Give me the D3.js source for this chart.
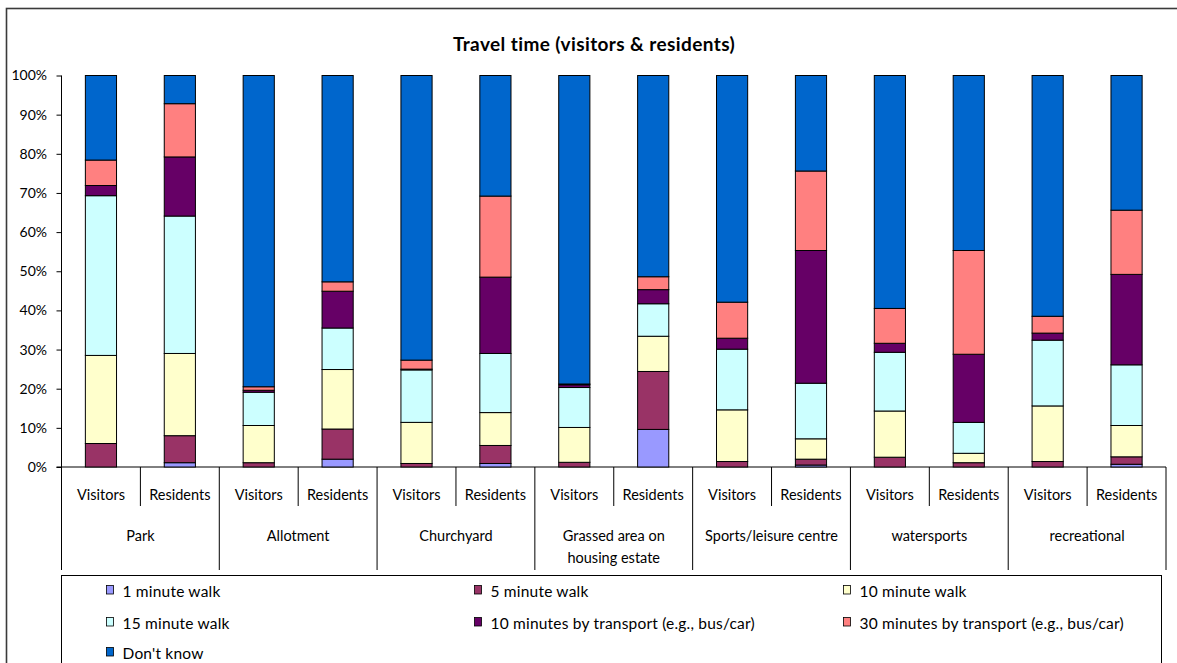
<!DOCTYPE html>
<html>
<head>
<meta charset="utf-8">
<script src="https://cdn.jsdelivr.net/npm/d3@7"></script>
<style>
  html, body { margin: 0; padding: 0; background: #fff; }
  svg { display: block; font-family: Lato, "Open Sans", sans-serif; }
</style>
</head>
<body>
<svg id="chart" width="1177" height="663"></svg>
<script>
// Locations surveyed and the two respondent groups per location
const places = ["Park", "Allotment", "Churchyard", "Grassed area on housing estate",
                "Sports/leisure centre", "watersports", "recreational"];
const placeLines = [["Park"], ["Allotment"], ["Churchyard"], ["Grassed area on", "housing estate"],
                    ["Sports/leisure centre"], ["watersports"], ["recreational"]];
const groups = ["Visitors", "Residents"];

// Share of respondents (%) per travel-time answer, one value per bar (place × group)
const oneMinuteWalk   = [0,    1.1, 0,    2.0,  0,    0.9,  0,    9.6,  0,    0.5,  0,    0,    0,    0.7];
const fiveMinuteWalk  = [6.0,  6.9, 1.1,  7.7,  0.9,  4.6,  1.2,  14.8, 1.4,  1.5,  2.5,  1.1,  1.4,  1.9];
const tenMinuteWalk   = [22.5, 21.0, 9.5, 15.2, 10.5, 8.4,  8.9,  9.0,  13.2, 5.2,  11.8, 2.4,  14.2, 8.0];
const fifteenMinWalk  = [40.8, 35.1, 8.5, 10.6, 13.4, 15.1, 10.2, 8.3,  15.5, 14.2, 15.0, 7.9,  16.8, 15.5];
const tenMinTransport = [2.6,  15.1, 0.5, 9.4,  0.2,  19.5, 0.7,  3.6,  2.8,  33.9, 2.3,  17.4, 1.8,  23.1];
const thirtyMinTransp = [6.5,  13.6, 0.9, 2.4,  2.3,  20.7, 0.2,  3.3,  9.2,  20.3, 8.9,  26.5, 4.3,  16.4];
const dontKnow        = [21.6, 7.2, 79.5, 52.7, 72.7, 30.8, 78.8, 51.4, 57.9, 24.4, 59.5, 44.7, 61.5, 34.4];

const seriesNames = ["1 minute walk", "5 minute walk", "10 minute walk", "15 minute walk",
                     "10 minutes by transport (e.g., bus/car)", "30 minutes by transport (e.g., bus/car)",
                     "Don't know"];
const seriesValues = [oneMinuteWalk, fiveMinuteWalk, tenMinuteWalk, fifteenMinWalk,
                      tenMinTransport, thirtyMinTransp, dontKnow];
const seriesColors = ["#9999FF", "#993366", "#FFFFCC", "#CCFFFF", "#660066", "#FF8080", "#0066CC"];

const yTicks = [0, 10, 20, 30, 40, 50, 60, 70, 80, 90, 100];

// ---- build bar records ----
const bars = [];
places.forEach((p, i) => groups.forEach((g, j) => {
  const k = i * groups.length + j;
  const rec = { key: k, place: p, group: g };
  seriesNames.forEach((s, si) => { rec[s] = seriesValues[si][k]; });
  bars.push(rec);
}));

const svg = d3.select("#chart");
const W = 1177, H = 663;

// outer chart frame
svg.append("rect")
  .attr("x", 6.5).attr("y", 8.5).attr("width", W + 20).attr("height", H + 20)
  .attr("fill", "none").attr("stroke", "#3a3a3a").attr("stroke-width", 1.6);

const plotLeft = 61.5, plotRight = 1166, plotTop = 75.5, plotBase = 467;

const x = d3.scaleBand().domain(bars.map(d => d.key)).range([plotLeft, plotRight]).padding(0);
const y = d3.scaleLinear().domain([0, 100]).range([plotBase, plotTop]);
const barW = x.bandwidth() * 0.395;

// title
svg.append("text")
  .attr("x", 594).attr("y", 51)
  .attr("text-anchor", "middle")
  .attr("font-size", 19).attr("font-weight", "bold").attr("letter-spacing", 0.4).attr("fill", "#000")
  .text("Travel time (visitors & residents)");

// y axis
const yAxis = d3.axisLeft(y).tickValues(yTicks).tickFormat(d => d + "%").tickSize(5).tickSizeOuter(0);
const gy = svg.append("g").attr("transform", `translate(${plotLeft},0)`).call(yAxis);
gy.select(".domain").remove();
gy.selectAll(".tick line").attr("stroke", "#000");
gy.selectAll(".tick text").attr("font-size", 14).attr("font-family", "Lato, sans-serif")
  .attr("fill", "#000").attr("x", -14.5);

// axis line (continues down through the category table)
svg.append("line").attr("x1", plotLeft).attr("x2", plotLeft).attr("y1", plotTop).attr("y2", 570)
  .attr("stroke", "#000").attr("stroke-width", 1);
// baseline
svg.append("line").attr("x1", plotLeft - 5).attr("x2", plotRight).attr("y1", plotBase).attr("y2", plotBase)
  .attr("stroke", "#000").attr("stroke-width", 1);

// stacked bars
const stack = d3.stack().keys(seriesNames);
const layers = stack(bars);
const color = d3.scaleOrdinal().domain(seriesNames).range(seriesColors);

svg.append("g").selectAll("g").data(layers).join("g")
  .attr("fill", d => color(d.key))
  .selectAll("rect").data(d => d.filter(s => s[1] - s[0] > 0)).join("rect")
  .attr("x", d => x(d.data.key) + (x.bandwidth() - barW) / 2)
  .attr("width", barW)
  .attr("y", d => y(d[1]))
  .attr("height", d => y(d[0]) - y(d[1]))
  .attr("stroke", "#000").attr("stroke-width", 1);

// category table under the axis
const table = svg.append("g").attr("font-family", "Lato, sans-serif").attr("font-size", 14.5).attr("fill", "#000");
bars.forEach(d => {
  const cx = x(d.key) + x.bandwidth() / 2;
  table.append("text").attr("x", cx).attr("y", 499.5).attr("text-anchor", "middle").text(d.group);
  const xr = x(d.key) + x.bandwidth();
  const isGroupEnd = (d.key % groups.length) === groups.length - 1;
  table.append("line").attr("x1", xr).attr("x2", xr).attr("y1", plotBase).attr("y2", isGroupEnd ? 570 : 506)
    .attr("stroke", "#000").attr("stroke-width", 1);
});
places.forEach((p, i) => {
  const x0 = x(i * groups.length), x1 = x(i * groups.length + groups.length - 1) + x.bandwidth();
  const lines = placeLines[i];
  lines.forEach((ln, li) => {
    table.append("text").attr("x", (x0 + x1) / 2).attr("y", 541 + li * 22)
      .attr("text-anchor", "middle").text(ln);
  });
});

// legend
const lg = svg.append("g").attr("font-family", "Lato, sans-serif").attr("font-size", 15.5).attr("letter-spacing", 0.2);
lg.append("rect").attr("x", 61.5).attr("y", 575.5).attr("width", 1100).attr("height", 120)
  .attr("fill", "#fff").attr("stroke", "#000").attr("stroke-width", 1);
const legCols = [106.5, 474.5, 843.5], legRows = [590, 622, 652];
seriesNames.forEach((s, i) => {
  const cx = legCols[i % 3], cy = legRows[Math.floor(i / 3)];
  lg.append("rect").attr("x", cx).attr("y", cy - 4.5).attr("width", 7).attr("height", 8.5)
    .attr("fill", color(s)).attr("stroke", "#000").attr("stroke-width", 0.8);
  lg.append("text").attr("x", cx + 16).attr("y", cy + 7).attr("fill", "#000").text(s);
});
</script>
</body>
</html>
